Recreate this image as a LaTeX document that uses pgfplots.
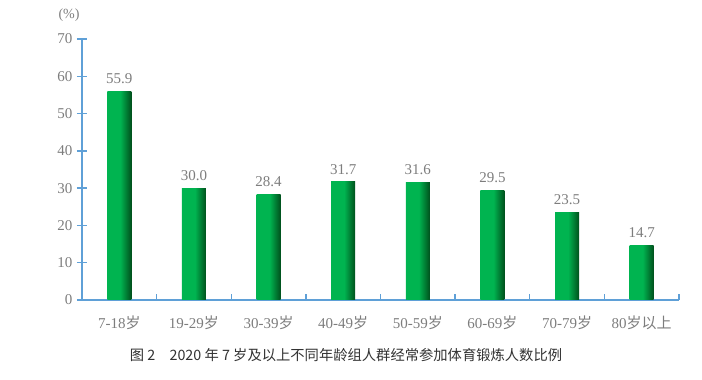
\documentclass[border=0pt]{standalone}
\usepackage{fontspec}
\setmainfont{Liberation Serif}
\newfontfamily\cjk{Noto Sans CJK SC}
\usepackage{pgfplots}
\pgfplotsset{compat=1.18}
\definecolor{axblue}{RGB}{95,160,215}
\definecolor{txtgray}{RGB}{125,125,125}
\definecolor{capgray}{RGB}{50,50,50}
\definecolor{g1}{RGB}{0,180,80}
\definecolor{g2}{RGB}{0,80,28}
\pgfdeclarehorizontalshading{barshade}{100bp}{color(0bp)=(g1); color(25bp)=(g1); color(52bp)=(g1); color(75bp)=(g2); color(100bp)=(g2)}
\newcommand{\sui}{{\cjk 岁}}
\pgfplotsset{mybar/.style={ybar, bar width=24pt, bar shift=0pt, draw=none, shading=barshade}}
\begin{document}
\begin{tikzpicture}[x=1pt,y=1pt]
\path[use as bounding box] (0,0) rectangle (702,380);
\begin{axis}[
  at={(82pt,80pt)}, anchor=south west,
  scale only axis, width=597pt, height=261pt,
  xmin=-0.5, xmax=7.5, ymin=0, ymax=70,
  axis lines*=left,
  axis line style={draw=axblue, line width=1.6pt},
  ytick={0,10,...,70},
  xtick={0,...,7},
  xticklabels={7-18\sui,19-29\sui,30-39\sui,40-49\sui,50-59\sui,60-69\sui,70-79\sui,80{\cjk 岁以上}},
  minor xtick={-0.5,0.5,...,7.5},
  tick align=center,
  major tick length=10pt,
  minor tick length=6pt,
  major x tick style={draw=none},
  minor x tick style={draw=axblue, line width=1.4pt, yshift=3pt},
  y tick style={draw=axblue, line width=1.4pt},
  tick label style={font=\fontsize{15}{17}\selectfont, text=txtgray},
  yticklabel style={xshift=-1pt},
  xticklabel style={yshift=-7pt},
  /pgf/number format/assume math mode=true,
  clip=false,
  nodes near coords,
  nodes near coords style={font=\fontsize{15}{17}\selectfont, text=txtgray, yshift=4pt,
    /pgf/number format/.cd, fixed, fixed zerofill, precision=1, assume math mode=true},
]
\addplot[mybar] coordinates {(0,55.9)};
\addplot[mybar] coordinates {(1,30.0)};
\addplot[mybar] coordinates {(2,28.4)};
\addplot[mybar] coordinates {(3,31.7)};
\addplot[mybar] coordinates {(4,31.6)};
\addplot[mybar] coordinates {(5,29.5)};
\addplot[mybar] coordinates {(6,23.5)};
\addplot[mybar] coordinates {(7,14.7)};
\end{axis}
\node[text=txtgray, font=\fontsize{14}{16}\selectfont] at (69,365) {(\%)};
\node[text=capgray, font=\cjk\fontsize{14.3}{17}\selectfont] at (346,25) {图 2\hspace{1em}2020 年 7 岁及以上不同年龄组人群经常参加体育锻炼人数比例};
\end{tikzpicture}
\end{document}
